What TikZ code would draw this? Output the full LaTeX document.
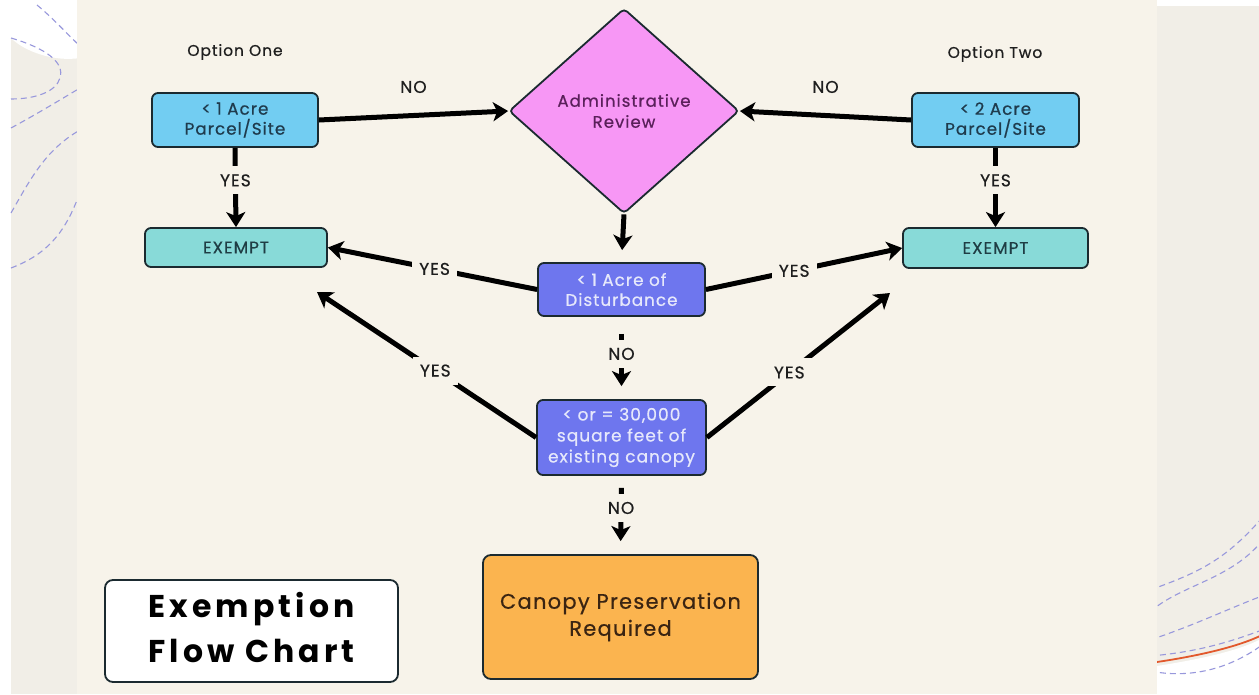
\documentclass[tikz,border=0pt]{standalone}
\usepackage{fontspec}
\usetikzlibrary{shapes.geometric,arrows.meta}
\setmainfont{Poppins}
\newfontfamily\pf{Poppins}[LetterSpace=6,FakeBold=0.6]
\newfontfamily\pft{Poppins}[LetterSpace=13]
\definecolor{outerbg}{HTML}{F1EEE7}
\definecolor{panel}{HTML}{F7F3EA}
\definecolor{deco}{HTML}{9898DC}
\definecolor{decoorange}{HTML}{E2582C}
\definecolor{lightblue}{HTML}{72CDF2}
\definecolor{teal}{HTML}{88DAD8}
\definecolor{pinkd}{HTML}{F797F5}
\definecolor{peri}{HTML}{6E76EE}
\definecolor{orangebox}{HTML}{FBB44F}
\definecolor{boxline}{HTML}{1B2A30}
\definecolor{bluetext}{HTML}{1F3B4D}
\definecolor{tealtext}{HTML}{1F3D44}
\definecolor{pinktext}{HTML}{5A205A}
\definecolor{peritext}{HTML}{E6E8FB}
\definecolor{orangetext}{HTML}{3A2412}
\definecolor{lbltext}{HTML}{1E1E1E}
\tikzset{
  box/.style={draw=boxline, line width=1.8pt, rounded corners=6pt, align=center,
    inner sep=0pt, font=\pf\fontsize{16.8}{20}\selectfont},
  optlbl/.style={font=\pf\fontsize{15.5}{17}\selectfont, text=lbltext, inner sep=0pt},
  conn/.style={draw=black, line width=5pt, -{Stealth[length=15pt,width=19pt,inset=4pt]}},
  gaplbl/.style={fill=panel, text=lbltext, font=\pf\fontsize{17}{19}\selectfont,
    inner xsep=7pt, inner ysep=2pt, minimum height=28pt},
  toplbl/.style={text=lbltext, font=\pf\fontsize{17}{19}\selectfont, inner sep=0pt, above=20pt},
  decoline/.style={draw=deco, line width=1.1pt, dash pattern=on 6pt off 4pt},
}
\begin{document}
\begin{tikzpicture}[x=1pt,y=-1pt]
\useasboundingbox (0,0) rectangle (1259,694);
% backgrounds
\fill[white] (0,0) rectangle (1259,694);
\fill[outerbg] (11,0) rectangle (1259,694);
\fill[white] (11,0) -- (80,0) -- (80,58) .. controls (55,62) and (25,52) .. (11,38) -- cycle;
\fill[white] (1157,0) rectangle (1259,6);
\fill[white] (1157,666) .. controls (1195,660) and (1235,652) .. (1259,640) -- (1259,694) -- (1157,694) -- cycle;
% decorative dashed curves, left
\draw[decoline] (37,5) .. controls (55,20) and (68,35) .. (80,46);
\draw[decoline] (11,38) .. controls (45,48) and (65,62) .. (60,78) .. controls (56,92) and (35,99) .. (11,99);
\draw[decoline] (11,128) .. controls (35,115) and (60,100) .. (80,88);
\draw[decoline] (11,213) .. controls (30,180) and (45,150) .. (80,130);
\draw[decoline] (11,268) .. controls (45,255) and (65,235) .. (80,192);
% decorative curves, right
\draw[decoline] (1150,590) .. controls (1200,572) and (1225,560) .. (1262,518);
\draw[decoline] (1150,612) .. controls (1180,585) and (1230,580) .. (1262,541);
\draw[decoline] (1150,640) .. controls (1195,625) and (1230,608) .. (1262,596);
\draw[decoline] (1150,656) .. controls (1200,652) and (1235,640) .. (1262,630);
\draw[draw=decoorange, line width=1.8pt] (1150,663) .. controls (1200,656) and (1240,646) .. (1262,635);
\draw[decoline] (1150,671) .. controls (1185,678) and (1225,672) .. (1262,645);
% main panel
\fill[panel] (77,0) rectangle (1157,694);

% headers
\node[optlbl] (optone) at (235,52) {Option One};
\node[optlbl] (opttwo) at (995,54) {Option Two};

% nodes
\node[box, fill=lightblue, text=bluetext, minimum width=166pt, minimum height=54pt] (p1) at (235,120) {< 1 Acre\\Parcel/Site};
\node[box, fill=lightblue, text=bluetext, minimum width=167pt, minimum height=54pt] (p2) at (995.5,120) {< 2 Acre\\Parcel/Site};
\node[box, fill=teal, text=tealtext, minimum width=182pt, minimum height=39pt] (ex1) at (236,247.5) {EXEMPT};
\node[box, fill=teal, text=tealtext, minimum width=185pt, minimum height=40pt] (ex2) at (995.5,248) {EXEMPT};
\node[diamond, draw=boxline, line width=1.8pt, fill=pinkd, text=pinktext, rounded corners=4pt,
  minimum width=230pt, minimum height=205pt, inner sep=0pt, aspect=1.12, align=center,
  font=\pf\fontsize{16.6}{21}\selectfont] (rev) at (624,111) {Administrative\\Review};
\node[box, fill=peri, text=peritext, minimum width=167pt, minimum height=53pt] (mid) at (621.5,289.5) {< 1 Acre of\\Disturbance};
\node[box, fill=peri, text=peritext, minimum width=169pt, minimum height=75pt,
  font=\pf\fontsize{17}{21}\selectfont] (can) at (621.5,437.5) {< or = 30,000\\square feet of\\existing canopy};
\node[box, fill=orangebox, text=orangetext, minimum width=275pt, minimum height=124pt, rounded corners=8pt,
  font=\pf\fontsize{21}{27}\selectfont] (pres) at (620.5,617) {Canopy Preservation\\Required};
\node[box, fill=white, text=black, minimum width=293pt, minimum height=102pt, rounded corners=8pt,
  font=\pft\bfseries\fontsize{31.5}{45}\selectfont] (title) at (251.5,631)
  {\raisebox{8pt}{\begin{tabular}{@{}c@{}}Exemption\\Flow Chart\end{tabular}}};

\coordinate (tL) at (317,292);
\coordinate (tR) at (890,293);

% connectors
\draw[conn] (p1.east) -- node[toplbl, midway] {NO} (rev.west);
\draw[conn] (p2.west) -- node[toplbl, midway] {NO} (rev.east);
\draw[conn] (p1.south) -- node[gaplbl, pos=0.41] {YES} (ex1.north);
\draw[conn] (p2.south) -- node[gaplbl, pos=0.41] {YES} (ex2.north);
\draw[conn, shorten >=12pt] (rev.south) -- (mid.north);
\draw[conn] (mid.west) -- node[gaplbl, pos=0.49] {YES} (ex1.east);
\draw[conn] (mid.east) -- node[gaplbl, pos=0.45] {YES} (ex2.west);
\draw[conn] (can.west) -- node[gaplbl, pos=0.46] {YES} (tL);
\draw[conn] (can.east) -- node[gaplbl, pos=0.45] {YES} (tR);
\draw[conn, shorten <=17pt, shorten >=13pt] (mid.south) -- node[gaplbl, pos=0.45] {NO} (can.north);
\draw[conn, shorten <=12pt, shorten >=13pt] (can.south) -- node[gaplbl, pos=0.41] {NO} (pres.north);
\end{tikzpicture}
\end{document}
